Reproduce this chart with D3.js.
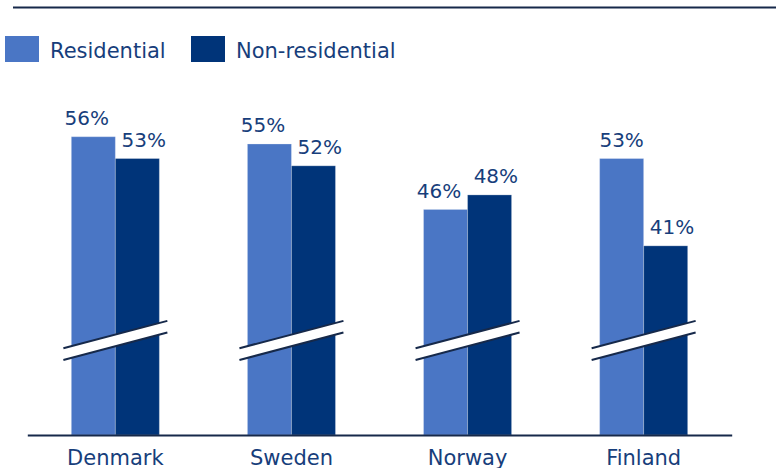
<!DOCTYPE html>
<html>
<head>
<meta charset="utf-8">
<script src="https://cdn.jsdelivr.net/npm/d3@7"></script>
<style>
  html, body { margin: 0; padding: 0; background: #ffffff; }
  svg { display: block; }
  text { font-family: "DejaVu Sans", sans-serif; }
</style>
</head>
<body>
<svg id="chart" width="776" height="468"></svg>
<script>
const categories = ["Denmark", "Sweden", "Norway", "Finland"];
const seriesNames = ["Residential", "Non-residential"];
const residential = [56, 55, 46, 53];
const nonResidential = [53, 52, 48, 41];
const axisFloor = 15;     // truncated axis start (broken axis)
const breakValue = 28;    // where the axis-break mark sits

const colors = { "Residential": "#4a76c5", "Non-residential": "#003479" };
const textColor = "#173e7b";
const lineColor = "#16294a";

const W = 776, H = 468;
const svg = d3.select("#chart");

const x = d3.scaleBand().domain(categories).range([27.3, 731.7]).paddingInner(0.5).paddingOuter(0.25);
const xs = d3.scaleBand().domain(seriesNames).range([0, x.bandwidth()]);
const y = d3.scaleLinear().domain([axisFloor, 56]).range([435, 136.7]);

// top rule
svg.append("line").attr("x1", 13).attr("x2", W).attr("y1", 7.5).attr("y2", 7.5)
  .attr("stroke", lineColor).attr("stroke-width", 2);

// legend
const legend = svg.append("g");
const legendX = [5, 191];
seriesNames.forEach((s, i) => {
  const g = legend.append("g").attr("transform", `translate(${legendX[i]},36)`);
  g.append("rect").attr("width", 34).attr("height", 26).attr("fill", colors[s]);
  g.append("text").attr("x", 45).attr("y", 22.3).attr("font-size", 21)
    .attr("fill", textColor).text(s);
});

const data = categories.map((c, i) => ({
  cat: c,
  values: [
    { s: "Residential", v: residential[i], other: nonResidential[i] },
    { s: "Non-residential", v: nonResidential[i], other: residential[i] }
  ]
}));

const groups = svg.selectAll("g.grp").data(data).join("g")
  .attr("class", "grp")
  .attr("transform", d => `translate(${x(d.cat)},0)`);

groups.selectAll("rect").data(d => d.values).join("rect")
  .attr("x", d => xs(d.s))
  .attr("width", xs.bandwidth())
  .attr("y", d => y(d.v))
  .attr("height", d => y(axisFloor) - y(d.v))
  .attr("fill", d => colors[d.s])
  .attr("stroke", "rgba(255,255,255,0.25)").attr("stroke-width", 1);

// value labels
groups.selectAll("text.val").data(d => d.values).join("text")
  .attr("class", "val")
  .attr("x", d => {
    const c = xs(d.s) + xs.bandwidth() / 2;
    if (d.s === "Non-residential") return c + 6.3;
    return Math.abs(d.v - d.other) < 8 ? c - 6.5 : c;
  })
  .attr("y", d => y(d.v) - 11.5)
  .attr("text-anchor", "middle")
  .attr("font-size", 20)
  .attr("fill", textColor)
  .text(d => d.v + "%");

// axis break marks
const yb = y(breakValue);
const halfW = 52, slope = 13.7, gap = 11.7;
groups.each(function () {
  const g = d3.select(this);
  const cx = x.bandwidth() / 2;
  const x0 = cx - halfW, x1 = cx + halfW;
  const upY0 = yb - gap / 2 + slope, upY1 = yb - gap / 2 - slope;
  const loY0 = upY0 + gap, loY1 = upY1 + gap;
  g.append("path")
    .attr("d", `M${x0},${upY0}L${x1},${upY1}L${x1},${loY1}L${x0},${loY0}Z`)
    .attr("fill", "#ffffff");
  g.append("line").attr("x1", x0).attr("y1", upY0).attr("x2", x1).attr("y2", upY1)
    .attr("stroke", lineColor).attr("stroke-width", 2);
  g.append("line").attr("x1", x0).attr("y1", loY0).attr("x2", x1).attr("y2", loY1)
    .attr("stroke", lineColor).attr("stroke-width", 2);
});

// baseline axis
const xAxis = d3.axisBottom(x).tickSize(0).tickPadding(0);
const ax = svg.append("g").attr("transform", `translate(0,${y(axisFloor)})`).call(xAxis);
ax.select(".domain").attr("stroke", lineColor).attr("stroke-width", 2);
ax.selectAll(".tick text")
  .attr("font-family", "DejaVu Sans, sans-serif")
  .attr("font-size", 21)
  .attr("fill", textColor)
  .attr("dy", 0)
  .attr("y", 30.3);
</script>
</body>
</html>
